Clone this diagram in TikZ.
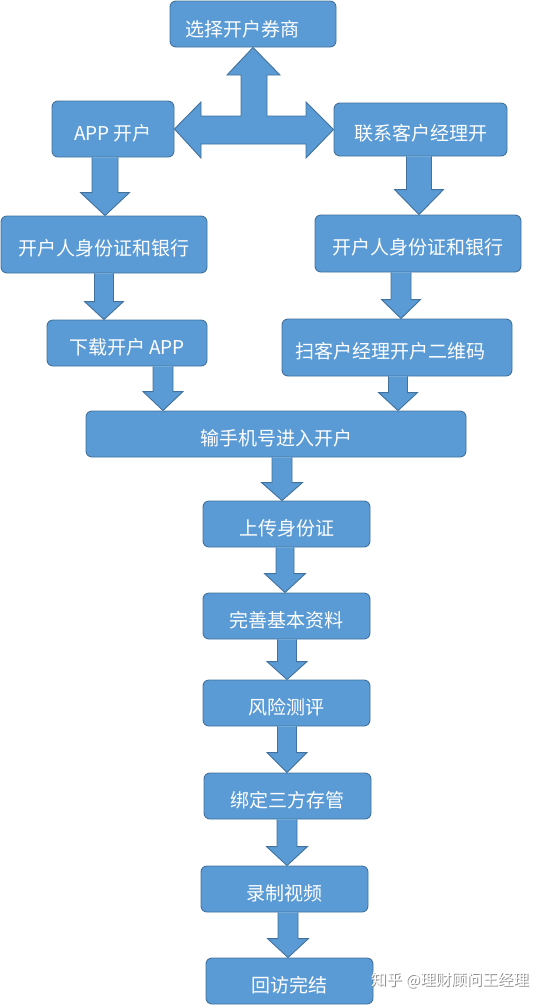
\documentclass[tikz,border=0pt]{standalone}
\usepackage{fontspec}
\setmainfont{Noto Sans CJK SC}
\usetikzlibrary{calc}
\definecolor{boxfill}{HTML}{5B9BD5}
\definecolor{boxline}{HTML}{41719C}
\tikzset{
  box/.style={draw=boxline, fill=boxfill, line width=0.9pt, rounded corners=6pt,
    text=white, font=\fontsize{19}{22}\selectfont, inner sep=0pt,
    text height=22pt, text depth=0pt},
  blockarrow/.style={draw=boxline, fill=boxfill, line width=0.9pt, line join=miter},
  wmark/.style={font=\fontsize{15.5}{18}\selectfont, inner sep=0pt},
}
% src, tgt, tip x, shaft half width, head half width, head length
\newcommand\barrow[6]{%
  \coordinate (bt) at (#3,0 |- #2.north);
  \coordinate (bs) at (#3,0 |- #1.south);
  \draw[blockarrow] ($(bs)+(-#4,0)$) -- ($(bt)+(-#4,-#6)$) -- ($(bt)+(-#5,-#6)$) -- (bt)
    -- ($(bt)+(#5,-#6)$) -- ($(bt)+(#4,-#6)$) -- ($(bs)+(#4,0)$);
}
\begin{document}
\begin{tikzpicture}[x=1pt,y=-1pt]
\useasboundingbox (0,0) rectangle (547,1005);
% boxes
\node[box, minimum width=166pt, minimum height=46pt, text height=24pt] (top) at (253,24) {选择开户券商\hspace*{22pt}};
\node[box, minimum width=122pt, minimum height=56pt] (app) at (113,129) {APP 开户};
\node[box, minimum width=173pt, minimum height=53pt] (mgr) at (420.5,129.5) {联系客户经理开};
\node[box, minimum width=206pt, minimum height=57pt] (idL) at (104,244.5) {开户人身份证和银行};
\node[box, minimum width=206pt, minimum height=57pt] (idR) at (418,243.5) {开户人身份证和银行};
\node[box, minimum width=160pt, minimum height=46pt] (dl) at (127,343) {下载开户 APP};
\node[box, minimum width=230pt, minimum height=57pt] (scan) at (397,347.5) {扫客户经理开户二维码\hspace*{14pt}};
\node[box, minimum width=380pt, minimum height=46pt] (phone) at (276,434) {输手机号进入开户};
\node[box, minimum width=167pt, minimum height=46pt] (upload) at (286.5,524) {上传身份证};
\node[box, minimum width=167pt, minimum height=46pt] (info) at (286.5,616) {完善基本资料};
\node[box, minimum width=167pt, minimum height=46pt] (risk) at (286.5,703) {风险测评};
\node[box, minimum width=167pt, minimum height=46pt] (bind) at (287.5,796) {绑定三方存管};
\node[box, minimum width=167pt, minimum height=46pt] (video) at (284.5,889) {录制视频};
\node[box, minimum width=167pt, minimum height=46pt] (visit) at (289.5,981) {回访完结};
% three-way arrow
\coordinate (U) at (253,0 |- top.south);
\draw[blockarrow] (U) -- (280,75) -- (267,75) -- (267,116) -- (306,116) -- (306,102)
  -- (mgr.west) -- (306,158) -- (306,144) -- (201,144) -- (201,158) -- (app.east)
  -- (201,102) -- (201,116) -- (241,116) -- (241,75) -- (227,75) -- cycle;
% down arrows
\barrow{app}{idL}{105}{13}{24.5}{23}
\barrow{mgr}{idR}{419}{12.5}{24.5}{25}
\barrow{idL}{dl}{104}{9.5}{19.5}{18}
\barrow{idR}{scan}{401}{10}{19.5}{19}
\barrow{dl}{phone}{163}{10}{20}{19}
\barrow{scan}{phone}{398}{9.5}{19.5}{18}
\barrow{phone}{upload}{282}{10}{20.5}{18}
\barrow{upload}{info}{285}{9}{20.5}{19}
\barrow{info}{risk}{287}{9.5}{20}{18}
\barrow{risk}{bind}{287}{9.5}{20}{20}
\barrow{bind}{video}{287}{10}{20.5}{19}
\barrow{video}{visit}{288}{10}{20.5}{19}
% watermark
\node[wmark, text=black!45] (wms) at (451,981) {知乎 @理财顾问王经理};
\node[wmark, text=white] (wm) at (450,980) {知乎 @理财顾问王经理};
\end{tikzpicture}
\end{document}
